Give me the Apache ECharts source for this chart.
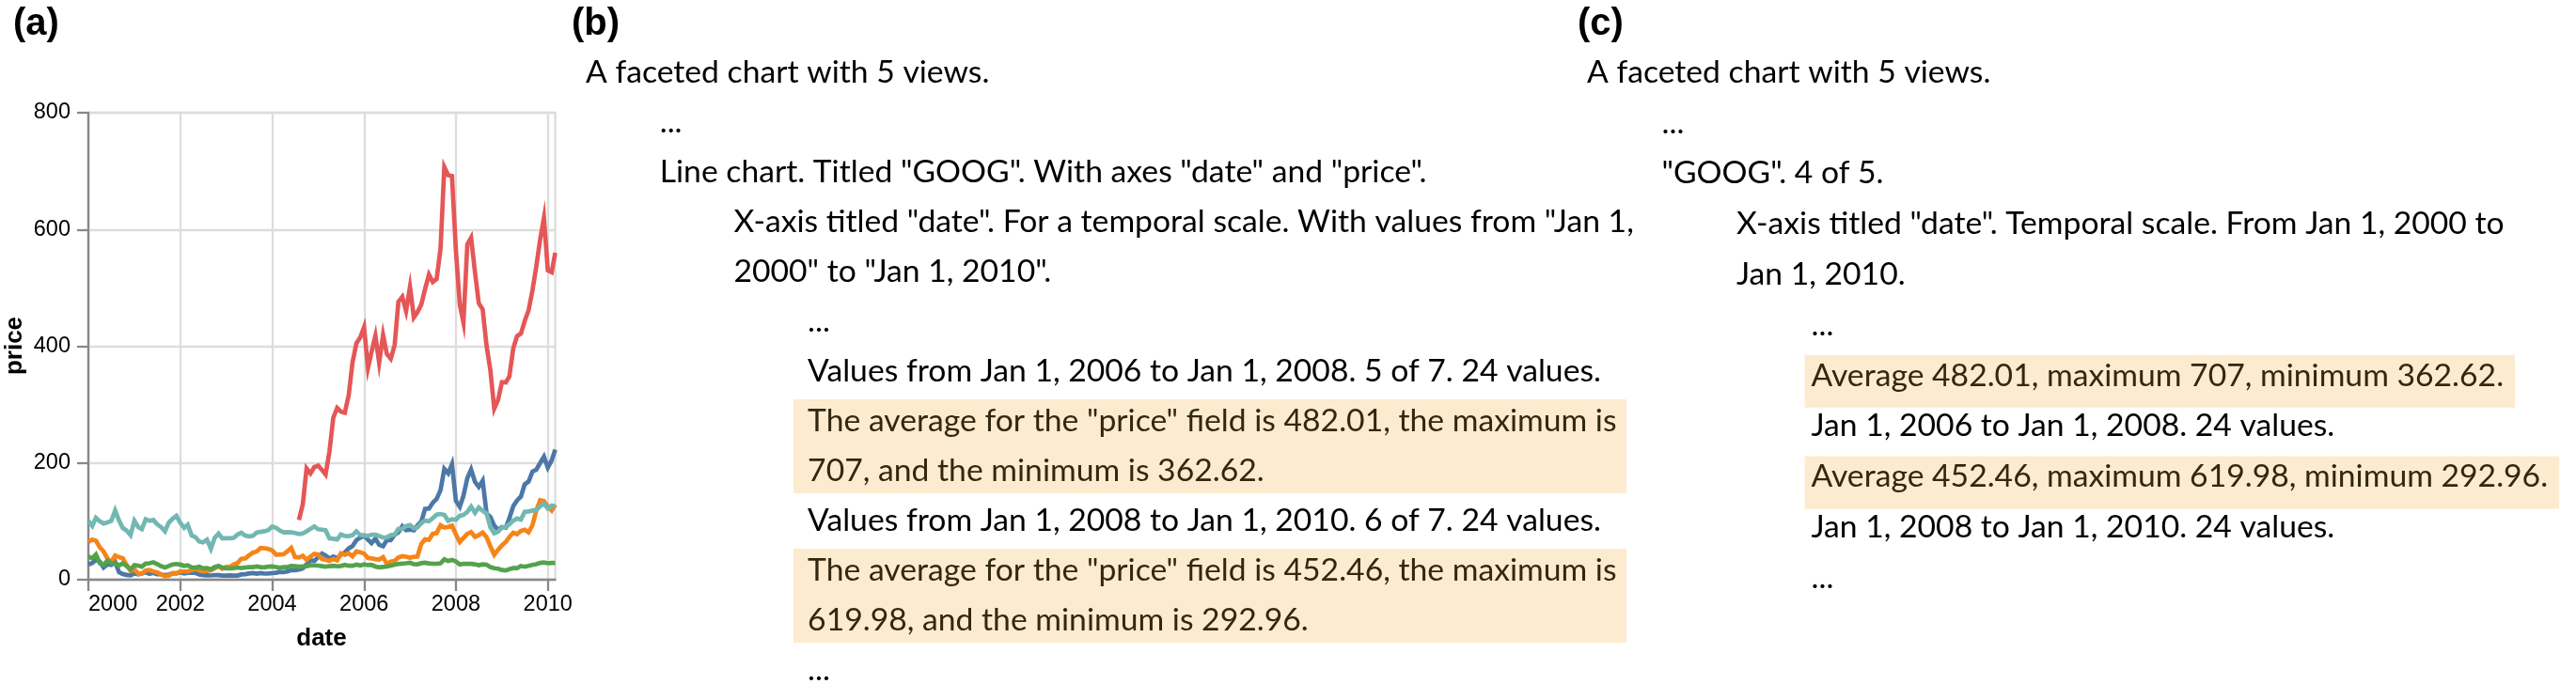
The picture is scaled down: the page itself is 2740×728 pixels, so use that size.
<!DOCTYPE html>
<html><head><meta charset="utf-8">
<script src="https://cdn.jsdelivr.net/npm/echarts@6/dist/echarts.min.js"></script>
<style>html,body{margin:0;padding:0;background:#fff}#c{width:2740px;height:728px}</style>
</head><body><div id="c"></div>
<script>
// ---------------- data ----------------
const symbols = ['AAPL', 'AMZN', 'GOOG', 'IBM', 'MSFT'];
const firstMonth = [2000, 0];   // Jan 2000, monthly values
const aapl = [25.94,28.66,33.95,31.01,21,26.19,25.41,30.47,12.88,9.78,8.25,7.44,
  10.81,9.12,11.03,12.74,9.98,11.62,9.4,9.27,7.76,8.78,10.65,10.95,
  12.36,10.85,11.84,12.14,11.65,8.86,7.63,7.38,7.25,8.03,7.75,7.16,
  7.18,7.51,7.07,7.11,8.98,9.53,10.54,11.31,10.36,11.44,10.45,10.69,
  11.28,11.96,13.52,12.89,14.03,16.27,16.17,17.25,19.38,26.2,33.53,32.2,
  38.45,44.86,41.67,36.06,39.76,36.81,42.65,46.89,53.61,57.59,67.82,71.89,
  75.51,68.49,62.72,70.39,59.77,57.27,67.96,67.85,76.98,81.08,91.66,84.84,
  85.73,84.61,92.91,99.8,121.19,122.04,131.76,138.48,153.47,189.95,182.22,198.08,
  135.36,125.02,143.5,173.95,188.75,167.44,158.95,169.53,113.66,107.59,92.67,85.35,
  90.13,89.31,105.12,125.83,135.81,142.43,163.39,168.21,185.35,188.5,199.91,210.73,
  192.06,204.62,223.02];
const amzn = [64.56,68.87,67,55.19,48.31,36.31,30.12,41.5,38.44,36.62,24.69,15.56,
  17.31,10.19,10.23,15.78,16.69,14.15,12.49,8.94,5.97,6.98,11.32,10.82,
  14.19,14.1,14.3,16.69,18.23,16.25,14.45,14.94,15.93,19.36,23.35,18.89,
  21.85,22.01,26.03,28.69,35.89,36.32,41.64,46.32,48.43,54.43,53.97,52.62,
  50.4,43.01,43.28,43.6,48.5,54.4,38.92,38.14,40.86,34.13,39.68,44.29,
  43.22,35.18,34.27,32.36,35.51,33.09,45.15,42.7,45.3,39.86,48.46,47.15,
  44.82,37.44,36.53,35.21,34.61,38.68,26.89,30.83,32.12,38.09,40.34,39.46,
  37.67,39.14,39.79,61.33,69.14,68.41,78.54,79.91,93.15,89.15,90.56,92.64,
  77.7,64.47,71.3,78.63,81.62,73.33,76.34,80.81,72.76,57.24,42.7,51.28,
  58.82,64.79,73.44,80.52,77.99,83.66,85.76,81.19,93.36,118.81,135.91,134.52,
  125.41,118.4,128.82];
const googStart = [2004, 7];    // Aug 2004
const goog = [102.37,129.6,190.64,181.98,192.79,
  195.62,187.99,180.51,220,277.27,294.15,287.76,286,316.46,372.14,404.91,414.86,
  432.66,362.62,390,417.94,371.82,419.33,386.6,378.53,401.9,476.39,484.81,460.48,
  501.5,449.45,458.16,471.38,497.91,522.7,510,515.25,567.27,707,693,691.48,
  564.3,471.18,440.47,574.29,585.8,526.42,473.75,463.29,400.52,359.36,292.96,307.65,
  338.53,337.99,348.06,395.97,417.23,421.59,443.05,461.67,495.85,536.12,583,619.98,
  529.94,526.8,560.19];
const ibm = [100.52,92.11,106.11,99.95,96.31,98.33,100.74,118.62,101.19,88.5,84.12,76.47,
  100.76,89.98,86.63,103.7,100.82,102.35,94.87,90.25,82.82,97.58,104.5,109.36,
  97.54,88.82,94.15,75.82,72.97,65.31,63.86,68.52,53.01,71.76,79.16,70.58,
  71.22,71.13,71.57,77.47,80.48,75.42,74.28,75.12,80.91,81.96,83.08,85.05,
  91.06,88.7,84.41,81.04,81.59,81.19,80.19,78.17,79.13,82.84,87.15,91.16,
  86.39,85.78,84.66,70.77,70.18,68.93,77.53,75.07,74.7,76.25,82.98,76.73,
  75.89,75.09,77.17,77.05,75.04,72.15,72.7,76.35,77.26,87.06,86.95,91.9,
  93.79,88.18,89.44,96.98,101.54,100.25,105.4,111.54,112.6,111,100.9,103.7,
  102.75,109.64,110.87,116.23,125.14,114.6,123.74,118.16,113.53,90.24,79.65,82.15,
  89.46,90.32,95.09,101.29,104.85,103.01,116.34,117,118.55,119.54,125.79,130.32,
  121.85,127.16,125.55];
const msft = [39.81,36.35,43.22,28.37,25.45,32.54,28.4,28.4,24.53,28.02,23.34,17.65,
  24.84,24,22.25,27.56,28.14,29.7,26.93,23.21,20.82,23.65,26.12,26.95,
  25.92,23.73,24.53,21.26,20.71,22.25,19.52,19.97,17.79,21.75,23.46,21.03,
  19.31,19.34,19.76,20.87,20.09,20.93,21.56,21.65,22.69,21.45,21.1,22.46,
  22.69,21.77,20.46,21.45,21.53,23.44,23.38,22.47,22.76,23.02,24.6,24.52,
  24.11,23.15,22.24,23.28,23.82,22.93,23.64,25.35,23.83,23.8,25.71,24.29,
  26.14,25.04,25.36,22.5,21.19,21.8,22.51,24.13,25.68,26.96,27.66,28.13,
  29.07,26.63,26.35,28.3,29.11,27.95,27.5,27.34,28.04,35.03,32.09,34,
  31.13,26.07,27.21,27.34,27.25,26.47,24.75,26.36,25.78,21.57,19.66,18.91,
  16.63,15.81,17.99,19.84,19.76,23.43,22.18,23.65,25.45,26.6,28.8,29.4,
  28.18,28.67,28.8];
const colors = ['#4c78a8', '#f58518', '#e45756', '#72b7b2', '#54a24b'];
const xTickYears = [2000, 2002, 2004, 2006, 2008, 2010];
const yTicks = [0, 200, 400, 600, 800];
const domainStart = [2000, 0];
const domainEnd = [2010, 2];

const panelLabels = ['(a)', '(b)', '(c)'];
const axisTitles = ['date', 'price'];
// [indent level, text, highlighted]
const panelB = [
  [0, 'A faceted chart with 5 views.', false],
  [1, '...', false],
  [1, 'Line chart. Titled "GOOG". With axes "date" and "price".', false],
  [2, 'X-axis titled "date". For a temporal scale. With values from "Jan 1,', false],
  [2, '2000" to "Jan 1, 2010".', false],
  [3, '...', false],
  [3, 'Values from Jan 1, 2006 to Jan 1, 2008. 5 of 7. 24 values.', false],
  [3, 'The average for the "price" field is 482.01, the maximum is', true],
  [3, '707, and the minimum is 362.62.', true],
  [3, 'Values from Jan 1, 2008 to Jan 1, 2010. 6 of 7. 24 values.', false],
  [3, 'The average for the "price" field is 452.46, the maximum is', true],
  [3, '619.98, and the minimum is 292.96.', true],
  [3, '...', false]
];
const panelC = [
  [0, 'A faceted chart with 5 views.', false],
  [1, '...', false],
  [1, '"GOOG". 4 of 5.', false],
  [2, 'X-axis titled "date". Temporal scale. From Jan 1, 2000 to', false],
  [2, 'Jan 1, 2010.', false],
  [3, '...', false],
  [3, 'Average 482.01, maximum 707, minimum 362.62.', true],
  [3, 'Jan 1, 2006 to Jan 1, 2008. 24 values.', false],
  [3, 'Average 452.46, maximum 619.98, minimum 292.96.', true],
  [3, 'Jan 1, 2008 to Jan 1, 2010. 24 values.', false],
  [3, '...', false]
];

// ---------------- build ----------------
const ts = (y, m) => new Date(y, m, 1).getTime();
function toPairs(vals, start) {
  return vals.map((v, i) => [ts(start[0], start[1] + i), v]);
}
const seriesValues = [toPairs(aapl, firstMonth), toPairs(amzn, firstMonth), toPairs(goog, googStart),
  toPairs(ibm, firstMonth), toPairs(msft, firstMonth)];

const TXT_FONT = 'Lato';
const CHART_FONT = 'Liberation Sans, Arial, sans-serif';
const cv = document.createElement('canvas').getContext('2d');
function measure(t, size) { cv.font = size + 'px ' + TXT_FONT; return cv.measureText(t).width; }
const txtSize = 100 * 861 / measure(panelB[7][1], 100);
const midOff = 0.36 * txtSize;

const graphics = [];
function addPanel(lines, x0, step, y0, dy, boxFn) {
  lines.forEach((ln, i) => {
    const base = y0 + i * dy;
    const x = x0 + ln[0] * step;
    if (ln[2]) {
      const r = boxFn(i, base, x, ln[1]);
      if (r) graphics.push({ type: 'rect', z: 1, shape: r, style: { fill: '#fdebcf' } });
    }
    graphics.push({ type: 'text', z: 2, x: x, y: base - midOff,
      style: { text: ln[1], fontFamily: TXT_FONT, fontSize: txtSize, fill: ln[2] ? '#33270f' : '#000',
        textAlign: 'left', textVerticalAlign: 'middle' } });
  });
}
// panel (b): fixed-width wrapped highlight blocks (one block per two-line paragraph)
addPanel(panelB, 623, 78.7, 89, 53, (i, base) => {
  if (i === 7 || i === 10) return { x: 844, y: base - 35, width: 886, height: 100 };
  return null;
});
// panel (c): highlight sized to text
addPanel(panelC, 1688, 79.5, 89, 53.8, (i, base, x, t) => {
  return { x: x - 7, y: base - 34, width: measure(t, txtSize) + 19, height: 56 };
});

function label(t, x, y, size, align, rot) {
  const g = { type: 'text', z: 2, x: x, y: y, style: { text: t, fontFamily: CHART_FONT, fontWeight: 'bold', fontSize: size, fill: '#000', textAlign: align, textVerticalAlign: 'middle' } };
  if (rot) g.rotation = rot;
  graphics.push(g);
}
label(panelLabels[0], 14, 26, 40, 'left');
label(panelLabels[1], 608, 26, 40, 'left');
label(panelLabels[2], 1678, 26, 40, 'left');
label(axisTitles[0], 342, 680, 26, 'center');
label(axisTitles[1], 16, 368, 26, 'center', Math.PI / 2);

const xTickValues = xTickYears.map(y => ts(y, 0));
const chart = echarts.init(document.getElementById('c'), null, { renderer: 'canvas' });
chart.setOption({
  animation: false,
  backgroundColor: '#fff',
  grid: { left: 94, top: 120, width: 496.6, height: 497, show: true, borderColor: '#ddd', borderWidth: 2.3, containLabel: false },
  xAxis: {
    type: 'value', min: ts(domainStart[0], domainStart[1]), max: ts(domainEnd[0], domainEnd[1]),
    axisLine: { show: true, lineStyle: { color: '#888', width: 2.3 } },
    axisTick: { show: true, length: 12, lineStyle: { color: '#888', width: 2.3 }, customValues: xTickValues },
    axisLabel: { customValues: xTickValues, formatter: v => String(new Date(v).getFullYear()),
      fontSize: 23.5, fontFamily: CHART_FONT, color: '#000', margin: 15, alignMinLabel: 'left', hideOverlap: false },
    splitLine: { show: true, lineStyle: { color: '#ddd', width: 2.3 } }
  },
  yAxis: {
    type: 'value', min: yTicks[0], max: yTicks[yTicks.length - 1], interval: yTicks[1] - yTicks[0],
    axisLine: { show: true, lineStyle: { color: '#888', width: 2.3 } },
    axisTick: { show: true, length: 12, lineStyle: { color: '#888', width: 2.3 } },
    axisLabel: { fontSize: 23.5, fontFamily: CHART_FONT, color: '#000', margin: 19 },
    splitLine: { show: true, lineStyle: { color: '#ddd', width: 2.3 } }
  },
  series: symbols.map((s, k) => ({
    name: s, type: 'line', data: seriesValues[k], showSymbol: false, symbol: 'none',
    lineStyle: { color: colors[k], width: 4.7, join: 'miter' }, itemStyle: { color: colors[k] }, z: 3
  })),
  graphic: graphics
});
</script></body></html>
